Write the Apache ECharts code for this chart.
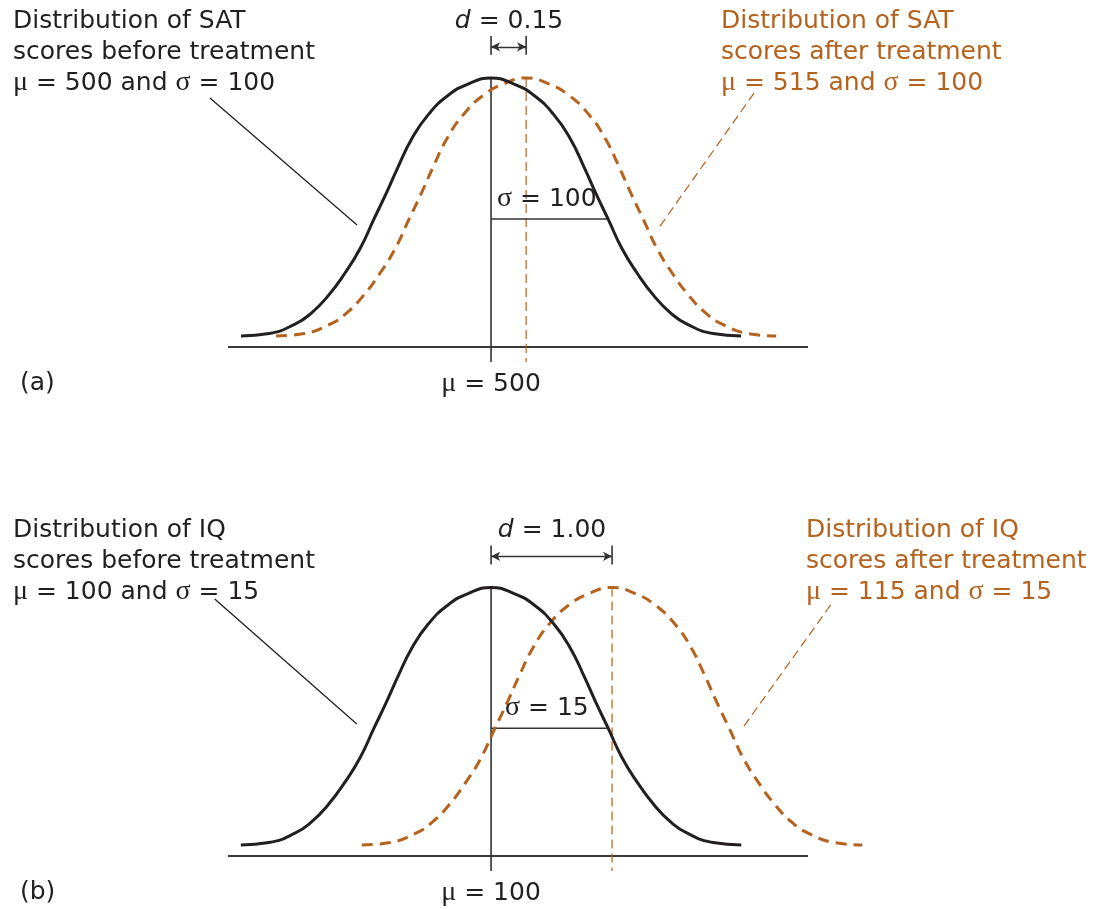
<!DOCTYPE html>
<html>
<head>
<meta charset="utf-8">
<script src="https://cdn.jsdelivr.net/npm/echarts@6/dist/echarts.min.js"></script>
<style>
html,body{margin:0;padding:0;background:#fff;}
#chart{width:1100px;height:909px;}
</style>
</head>
<body>
<div id="chart"></div>
<script>
// Shared bell shape: offsets from the centre (in sigma units) and relative heights
const bellOffsets = [0, 0.188, 0.368, 0.538, 0.675, 0.795, 0.897, 1.0, 1.12, 1.248, 1.393, 1.538, 1.675, 1.897, 2.137];
const bellHeights = [1.000, 0.979, 0.935, 0.863, 0.776, 0.669, 0.570, 0.476, 0.365, 0.275, 0.190, 0.125, 0.085, 0.050, 0.041];

// Panel (a): SAT scores — drawn centres [before, after], sigma, baseline extent
const satCenters = [500, 530];
const satSigma = 100;
const satAxis = [275.2, 770.9];
const satLeaders = [[[259.8, 0.926], [385.5, 0.4535]], [[724.8, 0.944], [642.7, 0.4387]]];

// Panel (b): IQ scores
const iqCenters = [100, 115.5];
const iqSigma = 15;
const iqAxis = [66.3, 140.6];
const iqLeaders = [[[64.6, 0.957], [82.8, 0.4916]], [[143.5, 0.935], [132.3, 0.480]]];

// Annotation levels (relative heights)
const arrowLevel = 1.116;
const arrowTicks = [1.086, 1.156];
const belowAxis = -0.056;

// Texts
const textsA = {
  left: ['Distribution of SAT', 'scores before treatment', ['500', '100']],
  right: ['Distribution of SAT', 'scores after treatment', ['515', '100']],
  d: '0.15', sigma: '100', mu: '500', tag: '(a)'
};
const textsB = {
  left: ['Distribution of IQ', 'scores before treatment', ['100', '15']],
  right: ['Distribution of IQ', 'scores after treatment', ['115', '15']],
  d: '1.00', sigma: '15', mu: '100', tag: '(b)'
};

const BLACK = '#231f20';
const ORANGE = '#b4621d';
const W = 1100, AX_L = 228, AX_R = 808;

function bell(center, sd) {
  const pts = [];
  for (let i = bellOffsets.length - 1; i > 0; i--) pts.push([center - bellOffsets[i] * sd, bellHeights[i]]);
  for (let i = 0; i < bellOffsets.length; i++) pts.push([center + bellOffsets[i] * sd, bellHeights[i]]);
  return pts;
}

function seg(idx, data, color, width, dash) {
  return {
    type: 'line', xAxisIndex: idx, yAxisIndex: idx, data: data,
    showSymbol: false, symbol: 'none', clip: false, silent: true, animation: false,
    lineStyle: { color: color, width: width, type: dash || 'solid', cap: 'butt' },
    z: 3
  };
}

function panelSeries(idx, centers, sd, axisRange, leaders) {
  const s = [];
  const sigmaH = bellHeights[bellOffsets.indexOf(1.0)];
  s.push(seg(idx, [[axisRange[0], 0], [axisRange[1], 0]], '#3a3a3a', 2));
  s.push(Object.assign(seg(idx, bell(centers[0], sd), BLACK, 3), { smooth: 0.5, z: 5 }));
  s.push(Object.assign(seg(idx, bell(centers[1], sd), ORANGE, 3, [11, 7]), { smooth: 0.5, z: 4 }));
  s.push(seg(idx, [[centers[0], 1], [centers[0], belowAxis]], '#333', 1.6));
  s.push(seg(idx, [[centers[1], 1], [centers[1], belowAxis]], ORANGE, 1.2, [9, 5]));
  s.push(seg(idx, [[centers[0], sigmaH], [centers[0] + sd, sigmaH]], '#333', 1.6));
  s.push(seg(idx, [[centers[0], arrowTicks[0]], [centers[0], arrowTicks[1]]], '#333', 1.6));
  s.push(seg(idx, [[centers[1], arrowTicks[0]], [centers[1], arrowTicks[1]]], '#333', 1.6));
  s.push(seg(idx, leaders[0], BLACK, 1.3));
  s.push(seg(idx, leaders[1], ORANGE, 1.2, [9, 5]));
  const arrow = seg(idx, [], '#333', 1.3);
  arrow.markLine = {
    silent: true, animation: false, symbol: ['arrow', 'arrow'], symbolSize: [7, 9],
    label: { show: false },
    lineStyle: { color: '#333', width: 1.3, type: 'solid' },
    data: [[{ coord: [centers[0], arrowLevel] }, { coord: [centers[1], arrowLevel] }]]
  };
  s.push(arrow);
  return s;
}

const FS = 25;
const rich = function (color) {
  return {
    n: { fontFamily: 'DejaVu Sans', fontSize: FS, fill: color, color: color },
    g: { fontFamily: 'Liberation Serif', fontSize: 28, fill: color, color: color },
    i: { fontFamily: 'DejaVu Sans', fontSize: FS, fontStyle: 'italic', fill: color, color: color }
  };
};
function txt(x, y, str, color, align) {
  return {
    type: 'text', x: x, y: y, silent: true, z: 10,
    style: {
      text: str, fill: color, fontFamily: 'DejaVu Sans', fontSize: FS,
      align: align || 'left', verticalAlign: 'middle', rich: rich(color)
    }
  };
}
function muSigma(v) {
  return '{g|μ}{n| = ' + v[0] + ' and }{g|σ}{n| = ' + v[1] + '}';
}
function panelTexts(t, dy, rightX, dX, sigmaX, sigmaY) {
  const g = [];
  g.push(txt(13, 21 + dy, '{n|' + t.left[0] + '}', BLACK));
  g.push(txt(13, 52 + dy, '{n|' + t.left[1] + '}', BLACK));
  g.push(txt(13, 83 + dy, muSigma(t.left[2]), BLACK));
  g.push(txt(rightX, 21 + dy, '{n|' + t.right[0] + '}', ORANGE));
  g.push(txt(rightX, 52 + dy, '{n|' + t.right[1] + '}', ORANGE));
  g.push(txt(rightX, 83 + dy, muSigma(t.right[2]), ORANGE));
  g.push(txt(dX, 21 + dy, '{i|d}{n| = ' + t.d + '}', BLACK, 'center'));
  g.push(txt(sigmaX, sigmaY, '{g|σ}{n| = ' + t.sigma + '}', BLACK));
  g.push(txt(20, 383 + dy, '{n|' + t.tag + '}', BLACK));
  g.push(txt(491, 384 + dy, '{g|μ}{n| = ' + t.mu + '}', BLACK, 'center'));
  return g;
}

// Full-width grids; extend the value range so the baseline extent lands on AX_L..AX_R pixels
function xAxisFor(idx, range) {
  const k = (range[1] - range[0]) / (AX_R - AX_L);
  return {
    type: 'value', gridIndex: idx, min: range[0] - AX_L * k, max: range[1] + (W - AX_R) * k, show: false,
    axisLine: { show: false }, axisTick: { show: false }, axisLabel: { show: false }, splitLine: { show: false }
  };
}
function yAxisFor(idx) {
  return {
    type: 'value', gridIndex: idx, min: -0.1, max: 1.2, show: false,
    axisLine: { show: false }, axisTick: { show: false }, axisLabel: { show: false }, splitLine: { show: false }
  };
}

const chart = echarts.init(document.getElementById('chart'), null, { renderer: 'canvas' });
// grid a: y=0 at 347px, y=1 at 78px (269px per unit); grid b: y=0 at 856px, y=1 at 587.5px
chart.setOption({
  backgroundColor: '#ffffff',
  animation: false,
  grid: [
    { left: 0, right: 0, top: 347 - 1.2 * 269, height: 1.3 * 269 },
    { left: 0, right: 0, top: 856 - 1.2 * 268.5, height: 1.3 * 268.5 }
  ],
  xAxis: [xAxisFor(0, satAxis), xAxisFor(1, iqAxis)],
  yAxis: [yAxisFor(0), yAxisFor(1)],
  series: [].concat(
    panelSeries(0, satCenters, satSigma, satAxis, satLeaders),
    panelSeries(1, iqCenters, iqSigma, iqAxis, iqLeaders)
  ),
  graphic: [].concat(
    panelTexts(textsA, 0, 721, 509, 497, 199),
    panelTexts(textsB, 509, 806, 552, 505, 708)
  )
});
</script>
</body>
</html>
